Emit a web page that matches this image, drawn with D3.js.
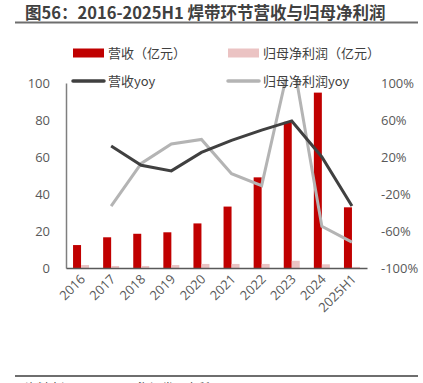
<!DOCTYPE html>
<html>
<head>
<meta charset="utf-8">
<script src="https://cdn.jsdelivr.net/npm/d3@7"></script>
<style>
  body { margin: 0; background: #fff; }
  svg { font-family: "Noto Sans CJK SC", "Open Sans", sans-serif; }
</style>
</head>
<body>
<svg id="chart" width="423" height="383"></svg>
<script>
// data
var years = ["2016","2017","2018","2019","2020","2021","2022","2023","2024","2025H1"];
var revenue = [12.4, 16.6, 18.5, 19.3, 24.1, 33.2, 49.0, 79.0, 94.8, 32.8];
var netProfit = [1.6, 1.1, 1.1, 1.6, 2.2, 2.2, 2.2, 3.9, 2.0, 0.6];
var revenueYoy = [null, 32, 11, 5, 25, 38, 49, 59, 20, -33];
var profitYoy = [null, -33, 13, 34, 39, 2, -11, 133, -55, -72];
var leftTicks = [0, 20, 40, 60, 80, 100];
var rightTicks = [-100, -60, -20, 20, 60, 100];

var svg = d3.select("#chart");
var plotLeft = 66, plotRight = 367, plotTop = 83, plotBottom = 268;

var x = d3.scaleBand().domain(years).range([plotLeft, plotRight]);
var yL = d3.scaleLinear().domain([0, 100]).range([plotBottom, plotTop]);
var yR = d3.scaleLinear().domain([-100, 100]).range([plotBottom, plotTop]);

// title
svg.append("text").attr("x", 25).attr("y", 19)
  .attr("font-size", 16.5).attr("font-weight", "bold").attr("fill", "#404040")
  .text("图56：2016-2025H1 焊带环节营收与归母净利润");
svg.append("line").attr("x1", 15).attr("x2", 418).attr("y1", 22.5).attr("y2", 22.5)
  .attr("stroke", "#6e6e6e").attr("stroke-width", 2);

// clip for lines going above the plot
svg.append("clipPath").attr("id", "clip").append("rect")
  .attr("x", plotLeft).attr("y", plotTop - 4).attr("width", plotRight - plotLeft).attr("height", plotBottom - plotTop + 4);

// bars
var barW = 8;
svg.selectAll(".rev").data(revenue).enter().append("rect")
  .attr("x", function(d, i){ return x(years[i]) + x.bandwidth()/2 - barW; })
  .attr("y", function(d){ return yL(d); })
  .attr("width", barW)
  .attr("height", function(d){ return yL(0) - yL(d); })
  .attr("fill", "#c00000");
svg.selectAll(".np").data(netProfit).enter().append("rect")
  .attr("x", function(d, i){ return x(years[i]) + x.bandwidth()/2; })
  .attr("y", function(d){ return yL(d); })
  .attr("width", barW)
  .attr("height", function(d){ return yL(0) - yL(d); })
  .attr("fill", "#ebc3c3");

// lines
function yoyLine(){
  return d3.line()
    .defined(function(d){ return d.v != null; })
    .x(function(d){ return x(d.k) + x.bandwidth()/2; })
    .y(function(d){ return yR(d.v); });
}
var g = svg.append("g").attr("clip-path", "url(#clip)");
g.append("path")
  .datum(years.map(function(k, i){ return {k: k, v: profitYoy[i]}; }))
  .attr("d", yoyLine()).attr("fill", "none")
  .attr("stroke", "#b4b4b4").attr("stroke-width", 3);
g.append("path")
  .datum(years.map(function(k, i){ return {k: k, v: revenueYoy[i]}; }))
  .attr("d", yoyLine()).attr("fill", "none")
  .attr("stroke", "#404040").attr("stroke-width", 3);

// axes
var axisL = svg.append("g").attr("transform", "translate(" + plotLeft + ",0)")
  .call(d3.axisLeft(yL).tickValues(leftTicks).tickSize(0).tickPadding(16));
var axisR = svg.append("g").attr("transform", "translate(" + plotRight + ",0)")
  .call(d3.axisRight(yR).tickValues(rightTicks).tickSize(0).tickPadding(14)
    .tickFormat(function(d){ return d + "%"; }));
axisR.select(".domain").remove();
axisL.select(".domain").attr("stroke", "#7f7f7f").attr("stroke-width", 1.5);
[axisL, axisR].forEach(function(a){
  a.selectAll("text").attr("font-size", 13).attr("fill", "#595959")
    .attr("font-family", "'Open Sans', sans-serif");
});

var axisB = svg.append("g").attr("transform", "translate(0," + plotBottom + ")")
  .call(d3.axisBottom(x).tickSize(0));
axisB.select(".domain").attr("stroke", "#595959").attr("stroke-width", 1.5);
axisB.selectAll("text")
  .attr("font-size", 13).attr("fill", "#595959")
  .attr("font-family", "'Open Sans', sans-serif")
  .attr("text-anchor", "end")
  .attr("dy", 0).attr("y", 0)
  .attr("transform", "translate(5,12) rotate(-45)");

// legend
var legendItems = [
  {label: "营收（亿元）", type: "rect", color: "#c00000", x: 73, y: 53},
  {label: "归母净利润（亿元）", type: "rect", color: "#ebc3c3", x: 228, y: 53},
  {label: "营收yoy", type: "line", color: "#404040", x: 73, y: 81},
  {label: "归母净利润yoy", type: "line", color: "#b4b4b4", x: 228, y: 81}
];
legendItems.forEach(function(it){
  if (it.type == "rect") {
    svg.append("rect").attr("x", it.x).attr("y", it.y - 4.5).attr("width", 31).attr("height", 9).attr("fill", it.color);
  } else {
    svg.append("line").attr("x1", it.x).attr("x2", it.x + 31).attr("y1", it.y).attr("y2", it.y)
      .attr("stroke", it.color).attr("stroke-width", 3.5).attr("stroke-linecap", "round");
  }
  svg.append("text").attr("x", it.x + 35).attr("y", it.y + 4.5)
    .attr("font-size", 13).attr("fill", "#404040").text(it.label);
});

// footer (cut off by the bottom edge, as in the source image)
svg.append("line").attr("x1", 15).attr("x2", 418).attr("y1", 376).attr("y2", 376)
  .attr("stroke", "#6e6e6e").attr("stroke-width", 2);
svg.append("text").attr("x", 25).attr("y", 393)
  .attr("font-size", 12).attr("fill", "#404040")
  .text("资料来源：iFinD，国海证券研究所");
</script>
</body>
</html>
